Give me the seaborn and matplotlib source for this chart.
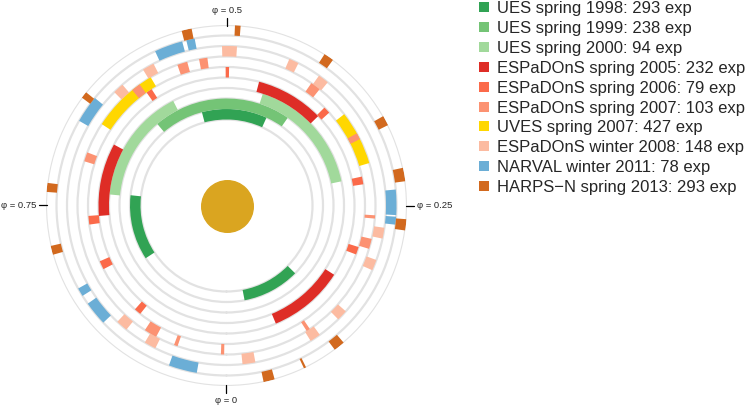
import numpy as np
import matplotlib
matplotlib.use("Agg")
import matplotlib.pyplot as plt
from matplotlib.patches import Patch
import seaborn as sns

# ---------------- data (phase coverage, start / end in phase units) ----------------
labels = ["UES spring 1998: 293 exp", "UES spring 1999: 238 exp", "UES spring 2000: 94 exp",
          "ESPaDOnS spring 2005: 232 exp", "ESPaDOnS spring 2006: 79 exp",
          "ESPaDOnS spring 2007: 103 exp", "UVES spring 2007: 427 exp",
          "ESPaDOnS winter 2008: 148 exp", "NARVAL winter 2011: 78 exp",
          "HARPS\u2212N spring 2013: 293 exp"]
rings = [1, 2, 3, 4, 5, 6, 6, 7, 8, 9]
colors = ["#31a354", "#74c476", "#a1d99b", "#de2d26", "#fb6a4a", "#fc9272",
          "#ffd700", "#fcbba1", "#6baed6", "#d2691e"]

ues1998_start = [0.030, 0.432, 0.733]
ues1998_end = [0.126, 0.541, 0.842]
ues1999_start = [0.403]
ues1999_end = [0.612]
ues2000_start = [0.283, 0.575]
ues2000_end = [0.450, 0.735]
esp2005_start = [0.063, 0.373, 0.671]
esp2005_end = [0.159, 0.459, 0.763]
esp2006_start = [0.1925, 0.2745, 0.367, 0.497, 0.591, 0.762, 0.816, 0.885]
esp2006_end = [0.2015, 0.2835, 0.375, 0.501, 0.598, 0.772, 0.826, 0.893]
esp2007_start = [0.0905, 0.203, 0.236, 0.3235, 0.3925, 0.5205, 0.5425, 0.599, 0.692,
                 0.9077, 0.9427, 0.994]
esp2007_end = [0.0945, 0.214, 0.2395, 0.3305, 0.4035, 0.5295, 0.5535, 0.609, 0.702,
               0.9217, 0.9467, 0.9975]
uves2007_start = [0.296, 0.585]
uves2007_end = [0.355, 0.658]
esp2008_start = [0.016, 0.0885, 0.1235, 0.1835, 0.2167, 0.3905, 0.4255, 0.4895,
                 0.5757, 0.6132, 0.880, 0.9144]
esp2008_end = [0.029, 0.0995, 0.1345, 0.1945, 0.2277, 0.4015, 0.4355, 0.5045,
               0.5877, 0.6242, 0.892, 0.9264]
narval2011_start = [0.232, 0.241, 0.530, 0.542, 0.641, 0.8312, 0.848, 0.945]
narval2011_end = [0.2395, 0.265, 0.538, 0.569, 0.667, 0.8392, 0.871, 0.972]
harpsn2013_start = [0.033, 0.0707, 0.1025, 0.2279, 0.2715, 0.3235, 0.3995, 0.4875,
                    0.531, 0.642, 0.730, 0.786]
harpsn2013_end = [0.043, 0.0727, 0.1125, 0.2379, 0.2835, 0.3325, 0.4085, 0.4925,
                  0.540, 0.648, 0.738, 0.794]

starts = [ues1998_start, ues1999_start, ues2000_start, esp2005_start, esp2006_start,
          esp2007_start, uves2007_start, esp2008_start, narval2011_start, harpsn2013_start]
ends = [ues1998_end, ues1999_end, ues2000_end, esp2005_end, esp2006_end,
        esp2007_end, uves2007_end, esp2008_end, narval2011_end, harpsn2013_end]
zorders = [2, 2, 2, 2, 2, 4, 3, 2, 2, 2]

tick_phases = [0, 0.25, 0.5, 0.75]
tick_labels = ["\u03c6 = 0", "\u03c6 = 0.25", "\u03c6 = 0.5", "\u03c6 = 0.75"]

# ---------------- figure ----------------
sns.set_theme(style="white")
plt.rcParams["font.family"] = ["Liberation Sans", "DejaVu Sans"]

W, H = 747, 408
fig = plt.figure(figsize=(W / 100, H / 100), dpi=100)
cx, cy, R = 226.5, 202.5, 180.5
ax = fig.add_axes([(cx - R) / W, (cy - R) / H, 2 * R / W, 2 * R / H], projection="polar")
ax.set_theta_zero_location("S")
ax.set_theta_direction(1)

rmin, rmax = -7.69, 9.5
ax.set_ylim(rmin, rmax)
ax.set_yticks(np.arange(0.5, 9.6, 1.0))
ax.set_yticklabels([])
ax.set_xticks([])
ax.grid(axis="y", color="#e2e2e2", linewidth=1.6)
ax.grid(axis="x", visible=False)
ax.spines["polar"].set_visible(False)
ax.set_facecolor("white")

for s, e, ring, col, z in zip(starts, ends, rings, colors, zorders):
    s = np.array(s)
    e = np.array(e)
    ax.bar(2 * np.pi * s, 1.0, width=2 * np.pi * (e - s), bottom=ring - 0.5,
           align="edge", color=col, edgecolor="none", linewidth=0, zorder=z)

# the star in the centre
ax.scatter([0], [rmin], s=1380, color="#daa520", zorder=5, clip_on=False)

# phase ticks and labels
for ph, lab in zip(tick_phases, tick_labels):
    th = 2 * np.pi * ph
    ax.plot([th, th], [9.45, 10.12], color="black", linewidth=0.9, clip_on=False)
    if ph == 0:
        ha, va = "center", "top"
    elif ph == 0.25:
        ha, va = "left", "center"
    elif ph == 0.5:
        ha, va = "center", "bottom"
    else:
        ha, va = "right", "center"
    ax.text(th, 10.42, lab, ha=ha, va=va, fontsize=6.8, clip_on=False)

handles = [Patch(facecolor=c, edgecolor="none") for c in colors]
fig.legend(handles, labels, loc="upper left", bbox_to_anchor=(476 / W, 1 + 2 / H),
           frameon=False, fontsize=12, handlelength=0.55, handleheight=0.55,
           handletextpad=0.5, labelspacing=0.29, borderaxespad=0, borderpad=0.2)

fig.savefig("out.png", dpi=100, facecolor="white")
